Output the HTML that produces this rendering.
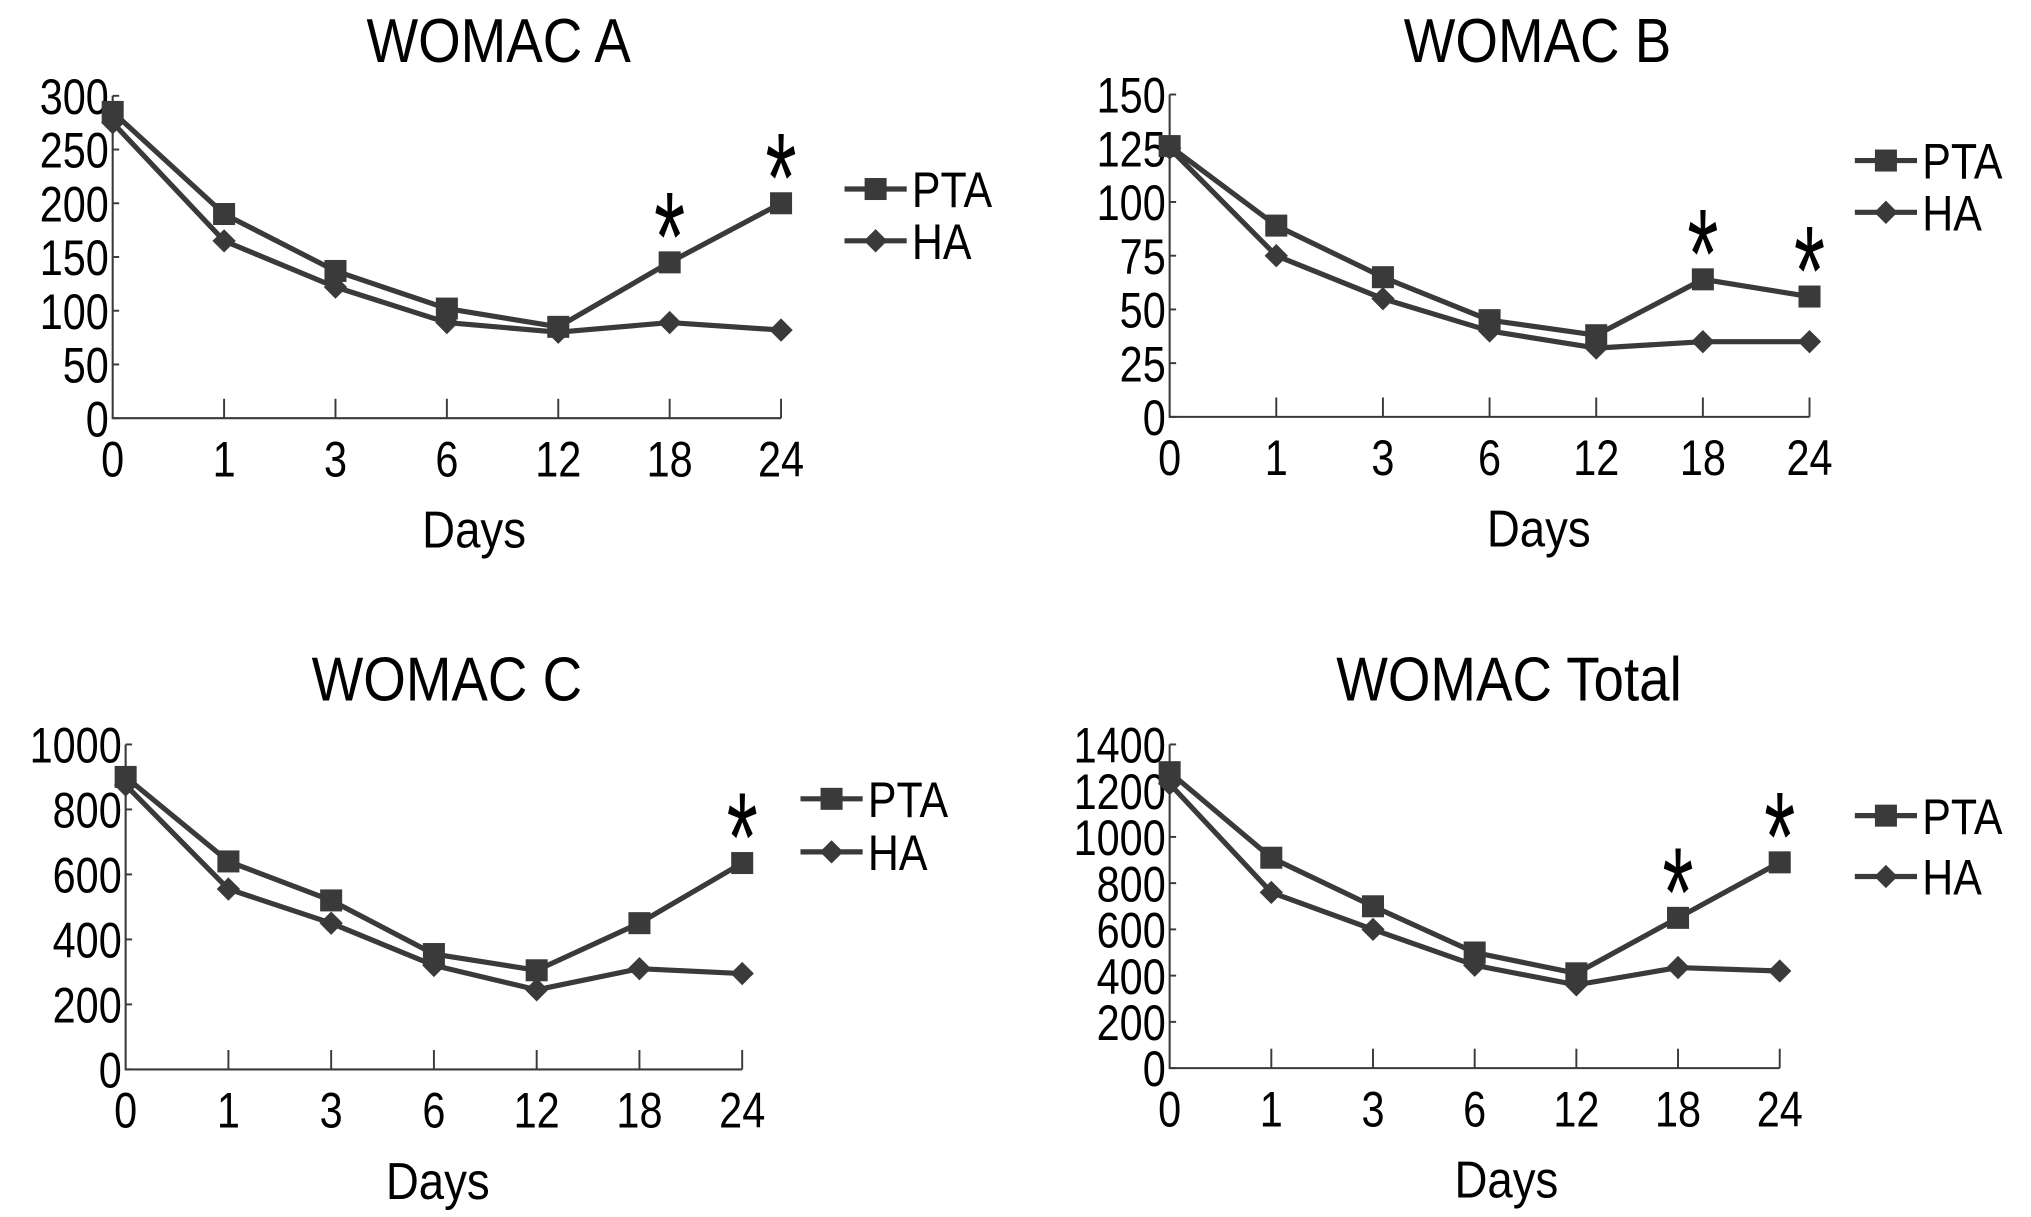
<!DOCTYPE html>
<html><head><meta charset="utf-8"><style>
html,body{margin:0;padding:0;background:#fff;}
svg{display:block;}
text{font-family:"Liberation Sans",Arial,sans-serif;fill:#000;}
</style></head><body>
<svg id="fig" width="2031" height="1217" viewBox="0 0 1568 940" preserveAspectRatio="none" xmlns="http://www.w3.org/2000/svg"></svg>
<script>
const days = ["0","1","3","6","12","18","24"];
const ptaA = [285,190,137,102,85,145,200];
const haA  = [275,165,122,89,80,89,82];
const ptaB = [126,89,65,45,38,64,56];
const haB  = [125,75,55,40,32,35,35];
const ptaC = [900,640,520,355,305,450,635];
const haC  = [875,555,450,320,245,310,295];
const ptaD = [1280,910,700,500,410,650,890];
const haD  = [1230,760,600,445,360,435,420];
const ticksA = [0,50,100,150,200,250,300];
const ticksB = [0,25,50,75,100,125,150];
const ticksC = [0,200,400,600,800,1000];
const ticksD = [0,200,400,600,800,1000,1200,1400];
const starsA = [5,6];
const starsB = [5,6];
const starsC = [6];
const starsD = [5,6];

const NS="http://www.w3.org/2000/svg";
const svg=document.getElementById('fig');
const COL="#3a3a3a";
function mk(tag,attrs,parent){const e=document.createElementNS(NS,tag);for(const k in attrs)e.setAttribute(k,attrs[k]);(parent||svg).appendChild(e);return e;}
function ctext(x,y,str,size,anchor,sx,parent,sy){
  const t=mk('text',{transform:`translate(${x},${y}) scale(${sx},${sy||1})`,x:0,y:0,'text-anchor':anchor,'font-size':size},parent);
  t.textContent=str;return t;
}

function panel(cfg){
  const g=mk('g',{});
  
  
  const ymax=cfg.ticks[cfg.ticks.length-1];
  const yS=v=>cfg.y0-(v/ymax)*(cfg.y0-cfg.yTop);
  const xS=i=>cfg.x0+i*(cfg.x1-cfg.x0)/(days.length-1);
  const t=ctext(cfg.tx,cfg.ty,cfg.title,48,'middle',0.88,g);
  
  
  const ax=mk('path',{d:`M${cfg.x0},${cfg.yTop} V${cfg.y0} H${cfg.x1}`,stroke:COL,'stroke-width':1.6,fill:'none'},g);
  
  
  cfg.ticks.forEach(v=>{
    const y=yS(v);
    mk('line',{x1:cfg.x0,x2:cfg.x0+5,y1:y,y2:y,stroke:COL,'stroke-width':1.5},g);
    const l=ctext(cfg.x0-3,y+14,String(v),39,'end',0.82,g);
    
    
  });
  days.forEach((d,i)=>{
    const x=xS(i);
    if(i>0)mk('line',{x1:x,x2:x,y1:cfg.y0,y2:cfg.y0-15,stroke:COL,'stroke-width':1.5},g);
    const l=ctext(x,cfg.y0+45,d,39,'middle',0.82,g);
    
    
  });
  const xl=ctext(cfg.dx,cfg.y0+100,'Days',40,'middle',0.88,g);
  
  
  function series(vals,shape,name){
    const p=mk('polyline',{points:vals.map((v,i)=>xS(i)+','+yS(v)).join(' '),fill:'none',stroke:COL,'stroke-width':4,'stroke-linejoin':'round'},g);
    
    
    vals.forEach((v,i)=>marker(xS(i),yS(v),shape,name));
  }
  function marker(x,y,shape,name){
    let m;
    if(shape==='sq')m=mk('rect',{x:x-8.5,y:y-8.5,width:17,height:17,fill:COL},g);
    else m=mk('path',{d:`M${x},${y-9} L${x+9},${y} L${x},${y+9} L${x-9},${y} Z`,fill:COL},g);
    
    
  }
  series(cfg.ha,'di','ha');
  series(cfg.pta,'sq','pta');
  cfg.stars.forEach(i=>{
    const s=ctext(xS(i),yS(cfg.pta[i])+14,'*',82,'middle',0.75,g,1.2);
    
    
  });
  [['PTA','sq',cfg.ly1],['HA','di',cfg.ly2]].forEach(([lab,sh,y])=>{
    const le=mk('g',{},g);
    
    
    mk('line',{x1:cfg.lx,x2:cfg.lx+48,y1:y,y2:y,stroke:COL,'stroke-width':4},le);
    const cx=cfg.lx+24;
    if(sh==='sq')mk('rect',{x:cx-8.5,y:y-8.5,width:17,height:17,fill:COL},le);
    else mk('path',{d:`M${cx},${y-9} L${cx+9},${y} L${cx},${y+9} L${cx-9},${y} Z`,fill:COL},le);
    ctext(cfg.lx+52,y+14,lab,39,'start',0.85,le);
  });
}
panel({name:'womac-a-chart',title:'WOMAC A',tx:385,ty:48,x0:87,x1:603,y0:323,yTop:74,ticks:ticksA,pta:ptaA,ha:haA,stars:starsA,dx:366,lx:652,ly1:146,ly2:186});
panel({name:'womac-b-chart',title:'WOMAC B',tx:1187,ty:48,x0:903,x1:1397,y0:322,yTop:73,ticks:ticksB,pta:ptaB,ha:haB,stars:starsB,dx:1188,lx:1432,ly1:124,ly2:164});
panel({name:'womac-c-chart',title:'WOMAC C',tx:345,ty:541,x0:97,x1:573,y0:826,yTop:575,ticks:ticksC,pta:ptaC,ha:haC,stars:starsC,dx:338,lx:618,ly1:617,ly2:658});
panel({name:'womac-total-chart',title:'WOMAC Total',tx:1165,ty:541,x0:903,x1:1374,y0:825,yTop:575,ticks:ticksD,pta:ptaD,ha:haD,stars:starsD,dx:1163,lx:1432,ly1:630,ly2:677});
</script>
</body></html>
